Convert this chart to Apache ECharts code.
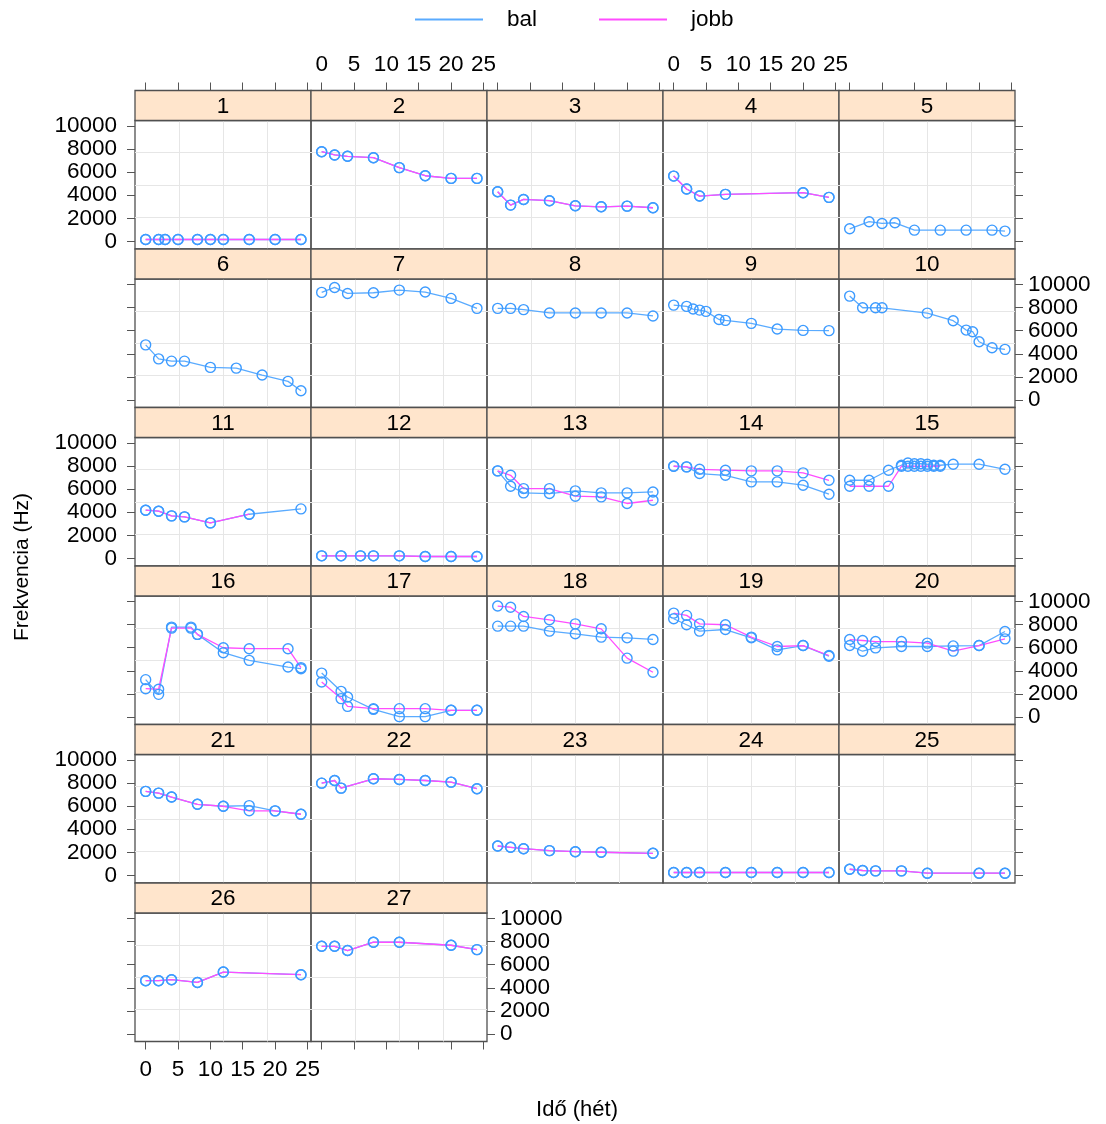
<!DOCTYPE html>
<html>
<head>
<meta charset="utf-8">
<script src="https://cdn.jsdelivr.net/npm/echarts@6/dist/echarts.min.js"></script>
<style>
  html, body { margin: 0; padding: 0; background: #ffffff; }
  #chart { width: 1106px; height: 1124px; }
</style>
</head>
<body>
<div id="chart"></div>
<script>
// Panel (strip) labels
const panelLabels = ['1','2','3','4','5','6','7','8','9','10','11','12','13','14','15',
                     '16','17','18','19','20','21','22','23','24','25','26','27'];

// Measurement times (weeks) for each panel
const ido = [
  [0,2,3,5,8,10,12,16,20,24],
  [0,2,4,8,12,16,20,24],
  [0,2,4,8,12,16,20,24],
  [0,2,4,8,20,24],
  [0,3,5,7,10,14,18,22,24],
  [0,2,4,6,10,14,18,22,24],
  [0,2,4,8,12,16,20,24],
  [0,2,4,8,12,16,20,24],
  [0,2,3,4,5,7,8,12,16,20,24],
  [0,2,4,5,12,16,18,19,20,22,24],
  [0,2,4,6,10,16,24],
  [0,3,6,8,12,16,20,24],
  [0,2,4,8,12,16,20,24],
  [0,2,4,8,12,16,20,24],
  [0,3,6,8,9,10,11,12,13,14,16,20,24],
  [0,2,4,7,8,12,16,22,24],
  [0,3,4,8,12,16,20,24],
  [0,2,4,8,12,16,20,24],
  [0,2,4,8,12,16,20,24],
  [0,2,4,8,12,16,20,24],
  [0,2,4,8,12,16,20,24],
  [0,2,3,8,12,16,20,24],
  [0,2,4,8,12,16,24],
  [0,2,4,8,12,16,20,24],
  [0,2,4,8,12,20,24],
  [0,2,4,8,12,24],
  [0,2,4,8,12,20,24]
];

// Left side ("bal") frequency, Hz
const bal = [
  [170,170,170,170,170,170,170,170,170,170],
  [7770,7490,7370,7250,6390,5690,5460,5460],
  [4310,3150,3640,3530,3090,3000,3060,2920],
  [5660,4540,3930,4080,4220,3820],
  [1100,1710,1560,1620,980,980,980,980,900],
  [4770,3560,3360,3360,2820,2760,2160,1610,800],
  [9310,9740,9220,9280,9510,9340,8790,7930],
  [7930,7930,7820,7530,7530,7530,7530,7270],
  [8210,8100,7870,7780,7670,6970,6890,6630,6140,6020,6000],
  [8990,7980,7980,7980,7520,6860,6050,5910,5040,4520,4380],
  [4180,4090,3690,3600,3080,3830,4290],
  [230,230,230,230,230,170,170,170],
  [7580,6250,5680,5620,5850,5680,5680,5760],
  [7980,7930,7350,7200,6630,6630,6340,5560],
  [6770,6770,7640,8070,8260,8200,8200,8150,8070,8070,8160,8160,7720],
  [3230,1960,7780,7780,7150,5560,4900,4320,4180],
  [3800,2220,1730,660,30,30,580,580],
  [7860,7860,7860,7430,7200,6910,6850,6710],
  [8500,7980,7430,7570,6850,5810,6180,5260],
  [6180,5690,5980,6100,6100,6150,6180,7400],
  [7280,7130,6790,6160,5990,6050,5590,5300],
  [7990,8220,7560,8370,8310,8220,8080,7510],
  [2550,2440,2320,2150,2060,2010,1920],
  [260,260,260,260,260,260,260,260],
  [540,430,400,400,200,200,200],
  [4610,4610,4700,4460,5360,5130],
  [7590,7590,7220,7940,7940,7680,7300]
];

// Right side ("jobb") frequency, Hz; null where not measured
const jobb = [
  [170,170,170,170,170,170,170,170,170,170],
  [7770,7490,7370,7250,6390,5690,5460,5460],
  [4310,3150,3640,3530,3090,3000,3060,2920],
  [5660,4540,3930,4080,4220,3820],
  null,
  null,
  null,
  null,
  null,
  null,
  [4180,4090,3690,3600,3080,3830,null],
  [230,230,230,230,230,170,170,170],
  [7580,7200,6050,6050,5390,5330,4760,5040],
  [7980,7930,7720,7640,7580,7580,7410,6770],
  [6250,6250,6250,7980,7980,7980,7980,7980,7980,7980,null,null,null],
  [2450,2400,7690,7690,7150,5990,5910,5910,4270],
  [3030,1590,920,720,720,720,580,580],
  [9600,9500,8700,8410,8060,7630,5090,3870],
  [8990,8790,8060,7980,6910,6100,6180,5320],
  [6700,6620,6530,6530,6390,5700,6180,6760],
  [7280,7130,6790,6160,5990,5600,5590,5300],
  [7990,8220,7560,8370,8310,8220,8080,7510],
  [2550,2440,2320,2150,2060,2010,1920],
  [260,260,260,260,260,260,260,260],
  [540,430,400,400,200,200,200],
  [4610,4610,4700,4460,5360,5130],
  [7590,7590,7220,7940,7940,7680,7300]
];

// Axis tick values
const xTicks = [0, 5, 10, 15, 20, 25];
const yTicks = [0, 2000, 4000, 6000, 8000, 10000];

// Layout of the panel lattice
const COLS = 5;
const LEFT = 135, TOP = 90.5, PW = 176, STRIP = 30, PH = 128.5;
const X_MIN = -1.65, X_MAX = 25.55, Y_MIN = -650, Y_MAX = 10470;
const FONT = '"Liberation Sans", Arial, Helvetica, sans-serif';
const FS = 22.5;
const BLUE_PT = '#3d9bff', BLUE_LN = '#5aabff', PINK = '#ff4dff';
const BORDER = '#505050', TICK = '#555555', GRIDLINE = '#e6e6e6', STRIP_BG = '#ffe5cc';

const nPanels = panelLabels.length;
const nRows = Math.ceil(nPanels / COLS);
const grids = [], xAxes = [], yAxes = [], series = [], graphics = [];

const labelStyle = { fontSize: FS, color: '#000', fontFamily: FONT, formatter: v => String(v) };
const tickStyle = (vals) => ({ show: true, inside: false, length: 8, customValues: vals,
                               lineStyle: { color: TICK, width: 1 } });

panelLabels.forEach((lab, i) => {
  const r = Math.floor(i / COLS), c = i % COLS;
  const x0 = LEFT + c * PW;
  const s0 = TOP + r * (STRIP + PH);
  const y0 = s0 + STRIP;
  const isTop = r === 0;
  const isBottom = r === nRows - 1;
  const lastInRow = c === COLS - 1 || i === nPanels - 1;

  grids.push({ left: x0, top: y0, width: PW, height: PH, show: true,
               borderColor: BORDER, borderWidth: 1.3, backgroundColor: 'transparent' });

  // data axes with alternating tick labels (lattice style)
  const mainX = xAxes.length;
  xAxes.push({
    type: 'value', gridIndex: i, min: X_MIN, max: X_MAX,
    show: isTop || isBottom,
    position: isTop ? 'top' : 'bottom',
    offset: isTop ? STRIP : 0,
    axisLine: { show: false, onZero: false },
    splitLine: { show: false },
    axisTick: tickStyle(xTicks),
    axisLabel: Object.assign({ show: isTop ? (c % 2 === 1) : (c % 2 === 0),
                customValues: xTicks, margin: isTop ? 14 : 17 }, labelStyle)
  });
  const mainY = yAxes.length;
  yAxes.push({
    type: 'value', gridIndex: i, min: Y_MIN, max: Y_MAX,
    show: c === 0 || lastInRow,
    position: c === 0 ? 'left' : 'right',
    axisLine: { show: false, onZero: false },
    splitLine: { show: false },
    axisTick: tickStyle(yTicks),
    axisLabel: Object.assign({ show: c === 0 ? (r % 2 === 0) : (r % 2 === 1),
                customValues: yTicks, margin: c === 0 ? 18 : 13 }, labelStyle)
  });

  // background reference grid: panel divided into quarters
  xAxes.push({
    type: 'value', gridIndex: i, min: 0, max: 4, interval: 1,
    position: isTop ? 'bottom' : 'top',
    axisLine: { show: false, onZero: false }, axisTick: { show: false }, axisLabel: { show: false },
    splitLine: { show: true, showMinLine: false, showMaxLine: false,
                 lineStyle: { color: GRIDLINE, width: 1 } }
  });
  yAxes.push({
    type: 'value', gridIndex: i, min: 0, max: 4, interval: 1,
    position: c === 0 ? 'right' : 'left',
    axisLine: { show: false, onZero: false }, axisTick: { show: false }, axisLabel: { show: false },
    splitLine: { show: true, showMinLine: false, showMaxLine: false,
                 lineStyle: { color: GRIDLINE, width: 1 } }
  });

  const makeSeries = (name, vals, lineColor) => ({
    type: 'line', name: name,
    xAxisIndex: mainX, yAxisIndex: mainY,
    data: ido[i].map((t, k) => [t, vals[k]]),
    symbol: 'circle', symbolSize: 10,
    itemStyle: { color: 'rgba(0,0,0,0)', borderColor: BLUE_PT, borderWidth: 1.4 },
    lineStyle: { color: lineColor, width: 1.3 },
    emphasis: { disabled: true },
    silent: true,
    animation: false
  });
  series.push(makeSeries('bal', bal[i], BLUE_LN));
  if (jobb[i]) series.push(makeSeries('jobb', jobb[i], PINK));

  // strip with panel number
  graphics.push({
    type: 'rect', z: 10,
    shape: { x: x0, y: s0, width: PW, height: STRIP },
    style: { fill: STRIP_BG, stroke: BORDER, lineWidth: 1.3 }
  });
  graphics.push({
    type: 'text', z: 11, x: x0 + PW / 2, y: s0 + STRIP / 2 + 1,
    style: { text: lab, fontSize: FS, fontFamily: FONT, fill: '#000',
             align: 'center', verticalAlign: 'middle' }
  });
});

// axis titles
graphics.push({
  type: 'text', x: 22, y: 567, rotation: Math.PI / 2,
  style: { text: 'Frekvencia (Hz)', fontSize: 21, fontFamily: FONT, fill: '#000',
           align: 'center', verticalAlign: 'middle' }
});
graphics.push({
  type: 'text', x: 577, y: 1110,
  style: { text: 'Idő (hét)', fontSize: 22, fontFamily: FONT, fill: '#000',
           align: 'center', verticalAlign: 'middle' }
});

const chart = echarts.init(document.getElementById('chart'), null, { renderer: 'canvas' });
chart.setOption({
  animation: false,
  backgroundColor: '#ffffff',
  legend: {
    left: 415, top: 8, padding: 0,
    itemWidth: 68, itemHeight: 2, itemGap: 62,
    textStyle: { fontSize: FS, color: '#000', fontFamily: FONT, padding: [0, 0, 0, 19] },
    data: [
      { name: 'bal', icon: 'rect', itemStyle: { color: BLUE_LN, borderWidth: 0 } },
      { name: 'jobb', icon: 'rect', itemStyle: { color: PINK, borderWidth: 0 } }
    ],
    selectedMode: false
  },
  grid: grids,
  xAxis: xAxes,
  yAxis: yAxes,
  series: series,
  graphic: graphics
});
</script>
</body>
</html>
